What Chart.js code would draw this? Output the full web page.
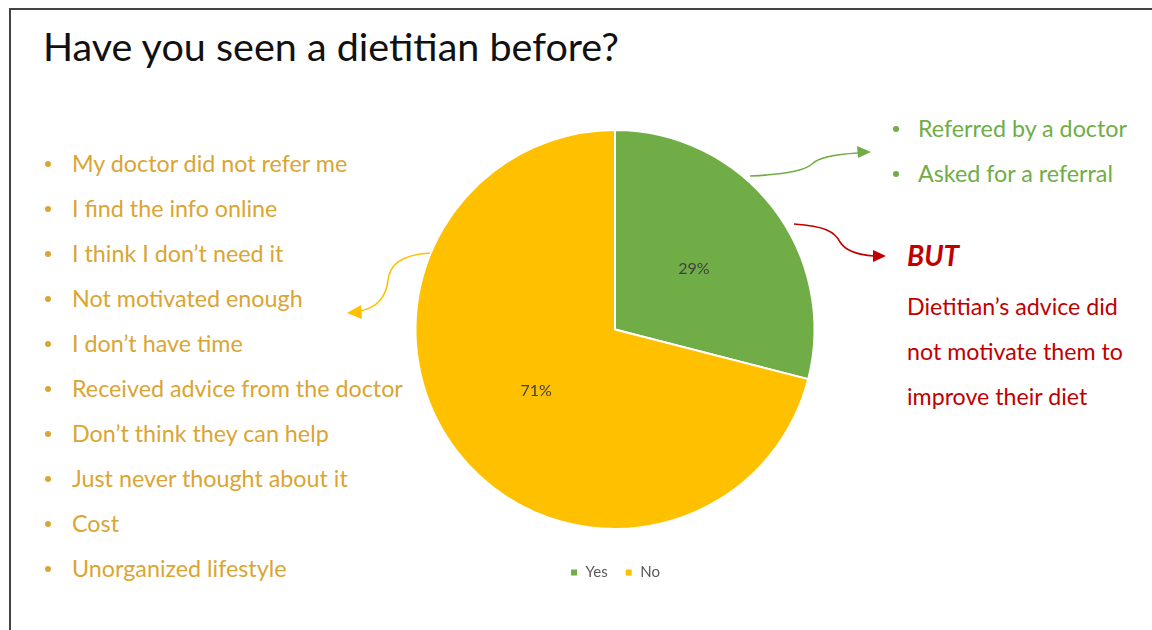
<!DOCTYPE html>
<html>
<head>
<meta charset="utf-8">
<script src="https://cdn.jsdelivr.net/npm/chart.js@4.4.1/dist/chart.umd.min.js"></script>
<style>
  body { margin: 0; width: 1152px; height: 630px; background: #fff; overflow: hidden; font-family: Lato, "Open Sans", sans-serif; }
  .marco { position: absolute; left: 9px; top: 8px; width: 1160px; height: 640px; border-top: 2px solid #444; border-left: 2px solid #444; }
  h1 { position: absolute; left: 43px; top: 22px; margin: 0; font-weight: normal; font-size: 39.5px; color: #111; white-space: nowrap; }
  ul { position: absolute; margin: 0; padding: 0; list-style: none; white-space: nowrap; }
  li { position: relative; }
  li::before { content: ""; position: absolute; width: 6px; height: 6px; border-radius: 50%; background: currentColor; top: 50%; margin-top: -3px; }
  #razonesNo { left: 72px; top: 141px; color: #DAA532; font-size: 23.3px; line-height: 45px; }
  #razonesNo li::before { left: -27px; }
  #razonesSi { left: 918px; top: 106px; color: #70AD47; font-size: 23.3px; line-height: 45px; }
  #razonesSi li::before { left: -25px; }
  .pero { position: absolute; left: 907px; color: #C00000; white-space: nowrap; }
  #but { top: 238px; font-size: 28px; font-weight: bold; font-style: italic; }
  #consejo { top: 284px; font-size: 23.2px; line-height: 45px; }
  #contenedor { position: absolute; left: 405px; top: 129px; width: 420px; height: 461px; }
  svg { position: absolute; left: 0; top: 0; }
</style>
</head>
<body>
<div class="marco"></div>
<h1>Have you seen a dietitian before?</h1>

<ul id="razonesNo"></ul>
<ul id="razonesSi"></ul>

<div class="pero" id="but">BUT</div>
<div class="pero" id="consejo"></div>

<div id="contenedor"><canvas id="graficoTorta"></canvas></div>

<svg width="1152" height="630">
  <path d="M750,176 C790,174 805,170 812,164 C820,156 840,154 858,153" fill="none" stroke="#70AD47" stroke-width="1.6"/>
  <polygon points="871,152 857,146 858,158" fill="#70AD47"/>
  <path d="M794,224 C825,226 835,232 840,242 C846,252 860,255 874,256" fill="none" stroke="#C00000" stroke-width="1.6"/>
  <polygon points="886,256 873,250 873,262" fill="#C00000"/>
  <path d="M430,253 C400,255 390,265 388,280 C386,300 375,308 360,311" fill="none" stroke="#FFC000" stroke-width="1.6"/>
  <polygon points="347,313 361,305 362,319" fill="#FFC000"/>
</svg>

<script>
const etiquetas = ["Yes", "No"];
const valores   = [29, 71];
const colores   = ["#70AD47", "#FFC000"];

const motivosNo = ["My doctor did not refer me", "I find the info online", "I think I don\u2019t need it",
  "Not motivated enough", "I don\u2019t have time", "Received advice from the doctor",
  "Don\u2019t think they can help", "Just never thought about it", "Cost", "Unorganized lifestyle"];
const motivosSi = ["Referred by a doctor", "Asked for a referral"];
const lineasPero = ["Dietitian\u2019s advice did", "not motivate them to", "improve their diet"];

function llenarLista(id, items) {
  const ul = document.getElementById(id);
  items.forEach(t => {
    const li = document.createElement("li");
    li.textContent = t;
    ul.appendChild(li);
  });
}
llenarLista("razonesNo", motivosNo);
llenarLista("razonesSi", motivosSi);
document.getElementById("consejo").innerHTML = lineasPero.join("<br>");

// etiquetas de porcentaje en el centro de cada porción
const porcentajes = {
  id: "porcentajes",
  afterDatasetsDraw(chart) {
    const ctx = chart.ctx;
    const total = valores.reduce((a, b) => a + b, 0);
    ctx.save();
    ctx.font = "16px Lato, 'Open Sans', sans-serif";
    ctx.fillStyle = "#404040";
    ctx.textAlign = "center";
    ctx.textBaseline = "middle";
    chart.getDatasetMeta(0).data.forEach((arco, i) => {
      const p = arco.tooltipPosition();
      ctx.fillText(Math.round(valores[i] / total * 100) + "%", p.x, p.y);
    });
    ctx.restore();
  }
};

new Chart(document.getElementById("graficoTorta").getContext("2d"), {
  type: "pie",
  data: {
    labels: etiquetas,
    datasets: [{ data: valores, backgroundColor: colores, borderColor: "#fff", borderWidth: 2, hoverOffset: 0 }]
  },
  options: {
    responsive: true,
    maintainAspectRatio: false,
    animation: false,
    layout: { padding: 0 },
    plugins: {
      tooltip: { enabled: false },
      legend: {
        position: "bottom",
        title: { display: true, text: "", padding: 0, font: { size: 15 } },
        labels: { boxWidth: 8, boxHeight: 8, padding: 17, color: "#595959", font: { size: 15, family: "Lato, 'Open Sans', sans-serif" } }
      }
    }
  },
  plugins: [porcentajes]
});
</script>
</body>
</html>
